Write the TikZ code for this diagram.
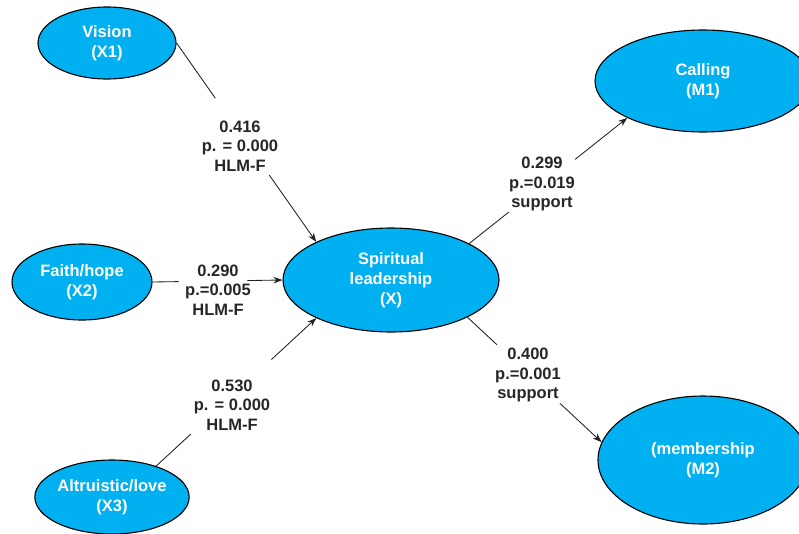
\documentclass[tikz,border=0pt]{standalone}
\usepackage{fontspec}
\setmainfont{Liberation Sans}
\usetikzlibrary{shapes.geometric,arrows.meta}
\definecolor{nodeblue}{HTML}{00B0F0}
\definecolor{linegray}{HTML}{202020}
\begin{document}
\begin{tikzpicture}[x=1pt,y=-1pt,
  construct/.style={ellipse,draw=black,line width=1.1pt,fill=nodeblue,text=white,
    font=\fontsize{16.5}{20}\selectfont\bfseries,align=center,inner sep=0pt},
  coef/.style={font=\fontsize{16.5}{19.5}\selectfont\bfseries,align=center,inner sep=0pt,text=black!85},
  link/.style={draw=linegray,line width=0.85pt},
  arrowlink/.style={link,-{Stealth[length=9pt,width=6.5pt]}}]
\useasboundingbox (0,0) rectangle (799,533);
\clip (0,0) rectangle (799,533);
\fill[white] (0,0) rectangle (799,533);

% constructs
\node[construct,minimum width=138pt,minimum height=72pt] (v) at (107,43) {Vision\\(X1)};
\node[construct,minimum width=140pt,minimum height=76pt] (f) at (82,282) {Faith/hope\\(X2)};
\node[construct,minimum width=148pt,minimum height=74pt] (a) at (112,497) {Altruistic/love\\(X3)};
\node[construct,minimum width=216pt,minimum height=104pt] (x) at (391,280) {Spiritual\\leadership\\(X)};
\node[construct,minimum width=216pt,minimum height=102pt] (c) at (703,81) {Calling\\(M1)};
\node[construct,minimum width=210pt,minimum height=128pt] (m) at (703,460) {(membership\\(M2)};

% break points of each path around its coefficient label
\path (v.east) -- coordinate[pos=0.277] (v1) coordinate[pos=0.664] (v2) (x.153);
\path (f.east) -- coordinate[pos=0.2] (f1) coordinate[pos=0.73] (f2) (x.west);
\path (a.35) -- coordinate[pos=0.216] (a1) coordinate[pos=0.72] (a2) (x.207);
\path (x.25.7) -- coordinate[pos=0.25] (c1) coordinate[pos=0.67] (c2) (c.206);
\path (x.-26) -- coordinate[pos=0.22] (m1) coordinate[pos=0.69] (m2) (m.170.8);

% paths
\draw[link] (v.east) -- (v1);
\draw[arrowlink] (v2) -- (x.153);
\draw[link] (f.east) -- (f1);
\draw[arrowlink] (f2) -- (x.west);
\draw[link] (a.35) -- (a1);
\draw[arrowlink] (a2) -- (x.207);
\draw[link] (x.25.7) -- (c1);
\draw[arrowlink] (c2) -- (c.206);
\draw[link] (x.-26) -- (m1);
\draw[arrowlink] (m2) -- (m.170.8);

% coefficients
\node[coef] (lv) at (240,146) {0.416\\p. = 0.000\\HLM-F};
\node[coef] (lf) at (218,290) {0.290\\p.=0.005\\HLM-F};
\node[coef] (la) at (232,405) {0.530\\p. = 0.000\\HLM-F};
\node[coef] (lc) at (542,184) {0.299\\p.=0.019\\support};
\node[coef] (lm) at (528,375) {0.400\\p.=0.001\\support};
\end{tikzpicture}
\end{document}
